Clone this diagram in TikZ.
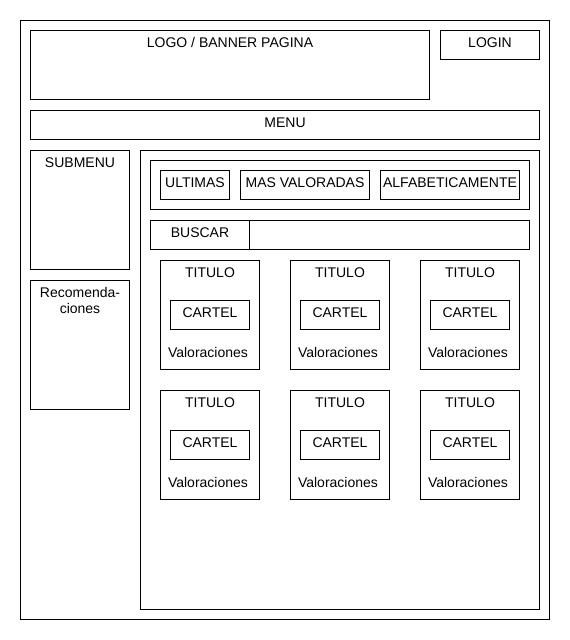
\documentclass[tikz,border=0pt]{standalone}
\usepackage{fontspec}
\setmainfont{Liberation Sans}
\begin{document}
\begin{tikzpicture}[x=1pt,y=-1pt,
  wf/.style={draw=black,line width=1pt,inner sep=0pt,outer sep=0pt,anchor=north west,fill=none},
  lbl/.style={inner sep=0pt,outer sep=0pt,anchor=base,font=\fontsize{14}{16}\selectfont}]
\useasboundingbox (0,0) rectangle (570,640);
\newcommand\wbox[5]{\node[wf,minimum width={((#4)-(#2)-1)*1pt},minimum height={((#5)-(#3)-1)*1pt}] (#1) at ({(#2)+0.5},{(#3)+0.5}) {};}
% frames
\wbox{outer}{20}{20}{550}{620}
\wbox{logo}{30}{30}{430}{100}
\wbox{login}{440}{30}{540}{60}
\wbox{menu}{30}{110}{540}{140}
\wbox{submenu}{30}{150}{130}{270}
\wbox{recom}{30}{280}{130}{410}
\wbox{main}{140}{150}{540}{610}
\wbox{tabs}{150}{160}{530}{210}
\wbox{tabA}{160}{170}{230}{200}
\wbox{tabB}{240}{170}{370}{200}
\wbox{tabC}{380}{170}{520}{200}
\wbox{search}{150}{220}{530}{250}
\draw[line width=1pt] (search.north west) ++(99,0) coordinate (sdivtop) -- (sdivtop |- search.south) coordinate (sdivbot);
% labels
\node[lbl] (tlogo) at ([yshift=-16.5pt]logo.north) {LOGO / BANNER PAGINA};
\node[lbl] (tlogin) at ([yshift=-16.5pt]login.north) {LOGIN};
\node[lbl] (tmenu) at ([yshift=-16.5pt]menu.north) {MENU};
\node[lbl] (tsub) at ([yshift=-16.5pt]submenu.north) {SUBMENU};
\node[lbl] (trec1) at ([yshift=-17pt]recom.north) {Recomenda-};
\node[lbl] (trec2) at ([yshift=-32.5pt]recom.north) {ciones};
\node[lbl] (ttabA) at ([yshift=-16.5pt]tabA.north) {ULTIMAS};
\node[lbl] (ttabB) at ([yshift=-16.5pt]tabB.north) {MAS VALORADAS};
\node[lbl] (ttabC) at ([yshift=-16.5pt]tabC.north) {ALFABETICAMENTE};
\node[lbl] (tbus) at (200,237) {BUSCAR};
% cards
\foreach \cx/\cy/\n in {160/260/1,290/260/2,420/260/3,160/390/4,290/390/5,420/390/6}{
  \wbox{card\n}{\cx}{\cy}{\cx+100}{\cy+110}
  \wbox{cartel\n}{\cx+10}{\cy+40}{\cx+90}{\cy+70}
  \node[lbl] (tit\n) at ([yshift=-16.5pt]card\n.north) {TITULO};
  \node[lbl] (tcar\n) at ([yshift=-16.5pt]cartel\n.north) {CARTEL};
  \node[lbl] (tval\n) at ([xshift=-2pt,yshift=-97pt]card\n.north) {Valoraciones};
}
\end{tikzpicture}
\end{document}
